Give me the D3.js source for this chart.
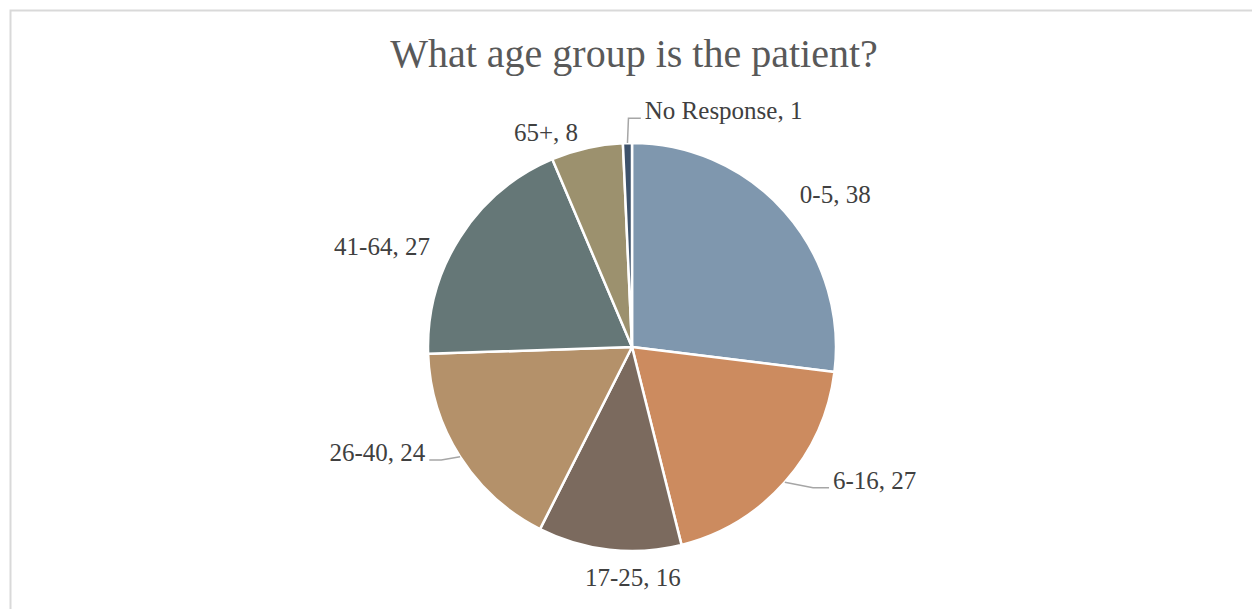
<!DOCTYPE html>
<meta charset="utf-8">
<style>
body { margin: 0; background: #fff; }
svg { display: block; }
.title { font-family: "Liberation Serif", serif; fill: #595959; }
.labels text { font-family: "Liberation Serif", serif; fill: #404040; }
.leaders path { fill: none; stroke: #a6a6a6; stroke-width: 1.5px; }
</style>
<svg width="1252" height="609"></svg>
<script src="https://d3js.org/d3.v7.min.js"></script>
<script>
// data
var categories = ["0-5", "6-16", "17-25", "26-40", "41-64", "65+", "No Response"];
var counts = [38, 27, 16, 24, 27, 8, 1];
var colors = ["#7f97ae", "#cc8b5f", "#7b6a5e", "#b4916a", "#657777", "#9c916e", "#3d526b"];
var titleText = "What age group is the patient?";

// label placement: angle shift (deg) and radius from centre, leader length
var labelLayout = {
  "0-5":         {da: 0.9,  r: 221},
  "6-16":        {da: -6.3, r: 246, leader: 16},
  "17-25":       {da: -6.6, r: 239},
  "26-40":       {da: 3.7,  r: 236, leader: 12},
  "41-64":       {da: -8.1, r: 222},
  "65+":         {da: -1.9, r: 213},
  "No Response": {da: 4.5,  r: 228, leader: 14, vertical: true, anchor: "start"}
};

var svg = d3.select("svg"),
    width = +svg.attr("width"),
    height = +svg.attr("height");

var cx = 632, cy = 347, radius = 204;

// chart area border (runs off the right and bottom of the picture)
svg.append("rect")
  .attr("x", 10.5).attr("y", 10.5)
  .attr("width", width + 50).attr("height", height + 50)
  .attr("fill", "#fff")
  .attr("stroke", "#d9d9d9")
  .attr("stroke-width", 2);

svg.append("text")
  .attr("class", "title")
  .attr("x", 634).attr("y", 67)
  .attr("text-anchor", "middle")
  .style("font-size", "40px")
  .text(titleText);

var data = categories.map(function(c, i) { return {name: c, value: counts[i], color: colors[i]}; });

var pie = d3.pie().sort(null).value(function(d) { return d.value; });
var arc = d3.arc().innerRadius(0).outerRadius(radius);

var arcs = pie(data);

var g = svg.append("g").attr("transform", "translate(" + cx + "," + cy + ")");

g.append("g").attr("class", "slices")
  .selectAll("path")
  .data(arcs)
  .enter().append("path")
  .attr("d", arc)
  .attr("fill", function(d) { return d.data.color; })
  .attr("stroke", "#fff")
  .attr("stroke-width", 2.5)
  .attr("stroke-linejoin", "round");

function polar(angle, r) {
  return [r * Math.sin(angle), -r * Math.cos(angle)];
}

var deg = Math.PI / 180;

arcs.forEach(function(d) {
  var lay = labelLayout[d.data.name];
  var mid = (d.startAngle + d.endAngle) / 2;
  var a = mid + lay.da * deg;
  var p = polar(a, lay.r);
  var s = Math.sin(a);
  var anchor = lay.anchor || (Math.abs(s) < 0.1 ? "middle" : (s > 0 ? "start" : "end"));
  d.labelX = p[0];
  d.labelY = p[1];
  d.anchor = anchor;
  d.mid = mid;
});

g.append("g").attr("class", "labels")
  .selectAll("text")
  .data(arcs)
  .enter().append("text")
  .attr("x", function(d) { return d.labelX; })
  .attr("y", function(d) { return d.labelY; })
  .attr("text-anchor", function(d) { return d.anchor; })
  .style("font-size", "25px")
  .text(function(d) { return d.data.name + ", " + d.data.value; });

// leader lines for the moved labels
g.append("g").attr("class", "leaders")
  .selectAll("path")
  .data(arcs.filter(function(d) { return labelLayout[d.data.name].leader; }))
  .enter().append("path")
  .attr("d", function(d) {
    var lay = labelLayout[d.data.name];
    var p0 = polar(d.mid, radius);
    var dir = d.anchor === "end" ? 1 : -1;
    var p2 = [d.labelX + dir * 4, d.labelY - 1];
    var p1 = lay.vertical ? [p0[0] + 1, p2[1]] : [p2[0] + dir * lay.leader, p2[1]];
    return d3.line()([p0, p1, p2]);
  });
</script>
